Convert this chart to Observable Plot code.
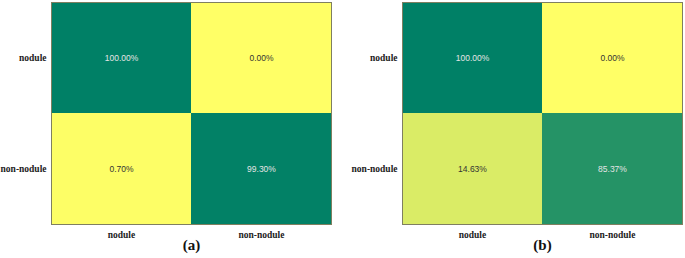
<!DOCTYPE html>
<html>
<head>
<meta charset="utf-8">
<script src="https://cdn.jsdelivr.net/npm/d3@7"></script>
<script src="https://cdn.jsdelivr.net/npm/@observablehq/plot@0.6"></script>
<style>
  html, body { margin: 0; padding: 0; background: #fff; }
  #row { display: flex; flex-direction: row; width: 685px; height: 258px; }
  #row svg { display: block; }
</style>
</head>
<body>
<div id="row"></div>
<script>
// Confusion matrices: rows = actual class, columns = predicted class (percent)
const categories = ["nodule", "non-nodule"];
const valuesA = [[100.00, 0.00], [0.70, 99.30]];
const valuesB = [[100.00, 0.00], [14.63, 85.37]];
const captions = ["(a)", "(b)"];
const colorRange = ["#ffff66", "#008066"]; // matplotlib "summer_r"

const serif = "'Liberation Serif', 'Times New Roman', serif";
const sans = "'Liberation Sans', Arial, sans-serif";

function toCells(matrix) {
  const out = [];
  matrix.forEach((row, i) => row.forEach((v, j) => out.push({actual: categories[i], predicted: categories[j], value: v})));
  return out;
}

function panel(matrix, caption, width, marginLeft, marginRight) {
  const cells = toCells(matrix);
  return Plot.plot({
    width, height: 258,
    marginLeft, marginRight, marginTop: 2, marginBottom: 34,
    style: {fontFamily: serif, fontSize: "9.5px", color: "#222", background: "#fff"},
    x: {domain: categories, padding: 0, label: null},
    y: {domain: categories, padding: 0, label: null},
    color: {type: "linear", domain: [0, 100], range: colorRange},
    marks: [
      Plot.cell(cells, {x: "predicted", y: "actual", fill: "value", inset: 0}),
      Plot.text(cells, {
        x: "predicted", y: "actual",
        text: d => d.value.toFixed(2) + "%",
        fill: d => d.value > 50 ? "#e4e4e4" : "#333333",
        fontFamily: sans,
        fontWeight: "normal",
        fontSize: 8.5
      }),
      Plot.frame({stroke: "#7f7f60", strokeWidth: 1}),
      Plot.axisX({tickSize: 0, tickPadding: 7, label: null, fontWeight: "bold", fontFamily: serif, fontSize: 9.5, fill: "#222"}),
      Plot.axisY({tickSize: 0, tickPadding: 5, label: null, fontWeight: "bold", fontFamily: serif, fontSize: 9.5, fill: "#222"}),
      Plot.text([caption], {
        frameAnchor: "bottom", dy: 25, text: d => d,
        fontSize: 15, fontWeight: "bold",
        fontFamily: serif,
        fill: "#111"
      })
    ]
  });
}

const row = document.getElementById("row");
row.appendChild(panel(valuesA, captions[0], 342, 51, 11));
row.appendChild(panel(valuesB, captions[1], 343, 60, 3));
</script>
</body>
</html>
